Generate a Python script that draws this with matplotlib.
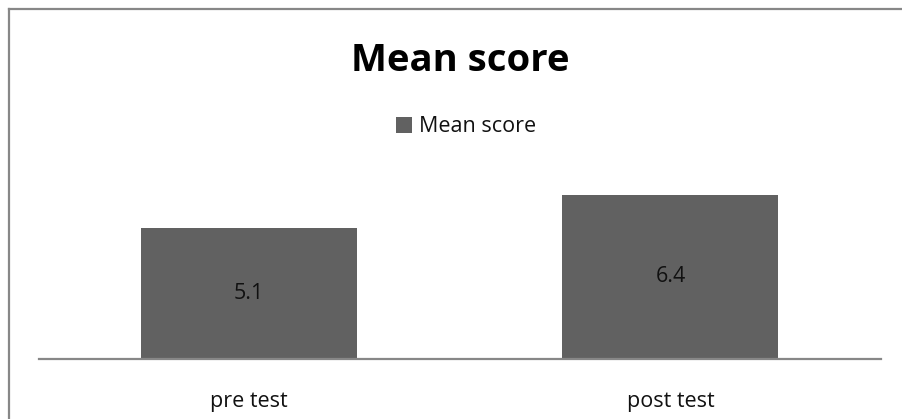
import matplotlib
matplotlib.use('Agg')
import matplotlib.pyplot as plt
from matplotlib.lines import Line2D

# Chart data
categories = ['pre test', 'post test']
mean_score = [5.1, 6.4]
series_name = 'Mean score'

plt.rcParams['font.family'] = ['Open Sans', 'DejaVu Sans']

W, H = 902, 419
fig = plt.figure(figsize=(W / 100, H / 100), dpi=100)

# axes: x from 38.5 to 881 px, baseline at y=359 px, 25.65 px per unit
ax_left, ax_right = 38.5, 881
ax_bottom = 359
ymax = 8
ax_top = ax_bottom - ymax * 25.65
ax = fig.add_axes([ax_left / W, 1 - ax_bottom / H,
                   (ax_right - ax_left) / W, (ax_bottom - ax_top) / H])

bar_color = '#616161'
bars = ax.bar(range(len(categories)), mean_score, width=0.513,
              color=bar_color, label=series_name, zorder=2)
ax.bar_label(bars, labels=[f'{v:.1f}' for v in mean_score],
             label_type='center', fontsize=15.5, color='#111111')

ax.set_xlim(-0.5, len(categories) - 0.5)
ax.set_ylim(0, ymax)
ax.set_xticks(range(len(categories)))
ax.set_xticklabels(categories, fontsize=15.5, color='#111111')
ax.tick_params(axis='x', length=0, pad=23)
ax.set_yticks([])
for side in ['top', 'right', 'left']:
    ax.spines[side].set_visible(False)
ax.spines['bottom'].set_color('#878787')
ax.spines['bottom'].set_linewidth(1.6)
ax.spines['bottom'].set_zorder(3)

# title and legend
fig.text(460.5 / W, 1 - 71 / H, 'Mean score', ha='center', va='baseline',
         fontsize=27.5, fontweight='bold', color='black')
fig.legend(loc='center', bbox_to_anchor=(466 / W, 1 - 127 / H),
           frameon=False, fontsize=15.5, handlelength=0.75, handleheight=0.75,
           handletextpad=0.3, borderpad=0, labelcolor='#111111')

# chart border (top and left edges visible)
border_color = '#878787'
fig.add_artist(Line2D([9 / W, 9 / W], [0, 1 - 9 / H], transform=fig.transFigure,
                      color=border_color, linewidth=1.6))
fig.add_artist(Line2D([9 / W, 1], [1 - 9 / H, 1 - 9 / H], transform=fig.transFigure,
                      color=border_color, linewidth=1.6))

fig.savefig('out.png', dpi=100)
